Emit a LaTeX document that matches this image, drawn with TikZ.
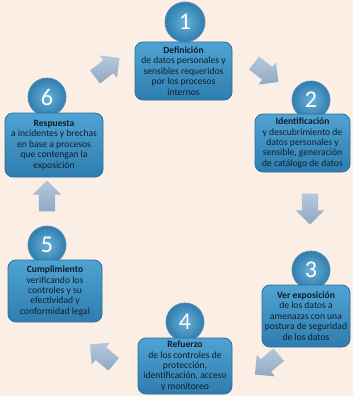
\documentclass[tikz,border=0pt]{standalone}
\usepackage{fontspec}
\setmainfont{Carlito}
\usetikzlibrary{shapes.arrows,shadows}
\definecolor{bgcol}{HTML}{FBEEE5}
\definecolor{boxtop}{HTML}{4FA3D2}
\definecolor{boxbot}{HTML}{2F7DB0}
\definecolor{boxline}{HTML}{2A6F9C}
\definecolor{arrcol}{HTML}{A3BBD2}
\definecolor{arrdark}{HTML}{8FA9C2}
\definecolor{txt}{HTML}{0F1E2C}
\tikzset{
  stepbox/.style={draw=boxline, line width=0.8pt, rounded corners=8pt,
    top color=boxtop, bottom color=boxbot, inner sep=0pt,
    align=center, text=txt, font=\fontsize{9.6}{10.4}\selectfont},
  numball/.style={circle, draw=boxline!80!white, line width=0.8pt,
    inner color=boxtop!85!white, outer color=boxbot, minimum size=38pt,
    inner sep=0pt, text=white, font=\fontsize{24}{24}\selectfont},
  fatarrow/.style={single arrow, draw=none, top color=arrcol!80!white, bottom color=arrdark,
    shading angle=0, minimum height=31pt, minimum width=28pt,
    single arrow head extend=6pt, inner ysep=8pt, inner xsep=0pt}
}
\begin{document}
\begin{tikzpicture}[x=1pt,y=-1pt]
\fill[bgcol] (0,0) rectangle (353,396);
\useasboundingbox (0,0) rectangle (353,396);
% balls
\node[numball, minimum size=40pt] (c1) at (185,22) {1};
\node[numball] (c2) at (311,100) {2};
\node[numball] (c3) at (311,270) {3};
\node[numball] (c4) at (185,322) {4};
\node[numball] (c5) at (47,245) {5};
\node[numball] (c6) at (47,97) {6};
% boxes
\node[stepbox, minimum width=97pt, minimum height=58pt] (b1) at (183.5,71)
  {\textbf{Definición}\\de datos personales y\\sensibles requeridos\\por los procesos\\internos};
\node[stepbox, minimum width=95pt, minimum height=58pt] (b2) at (302.5,143)
  {\textbf{Identificación}\\y descubrimiento de\\datos personales y\\sensible, generación\\de catálogo de datos};
\node[stepbox, minimum width=88pt, minimum height=62pt] (b3) at (306,316)
  {\textbf{Ver exposición}\\de los datos a\\amenazas con una\\postura de seguridad\\de los datos};
\node[stepbox, minimum width=94pt, minimum height=56pt] (b4) at (185,366)
  {\textbf{Refuerzo}\\de los controles de\\protección,\\identificación, acceso\\y monitoreo};
\node[stepbox, minimum width=94pt, minimum height=62pt] (b5) at (55,291)
  {\textbf{Cumplimiento}\\verificando los\\controles y su\\efectividad y\\conformidad legal};
\node[stepbox, minimum width=98pt, minimum height=64pt] (b6) at (54,145)
  {\textbf{Respuesta}\\a incidentes y brechas\\en base a procesos\\que contengan la\\exposición};
% arrows
\node[fatarrow, rotate=38] (a61) at (104,70) {};
\node[fatarrow, rotate=-38] (a12) at (263,70) {};
\node[fatarrow, rotate=-90] (a23) at (310,205) {};
\node[fatarrow, rotate=-140] (a34) at (270,362) {};
\node[fatarrow, rotate=140] (a45) at (105,357) {};
\node[fatarrow, rotate=90] (a56) at (47,200) {};
\end{tikzpicture}
\end{document}
